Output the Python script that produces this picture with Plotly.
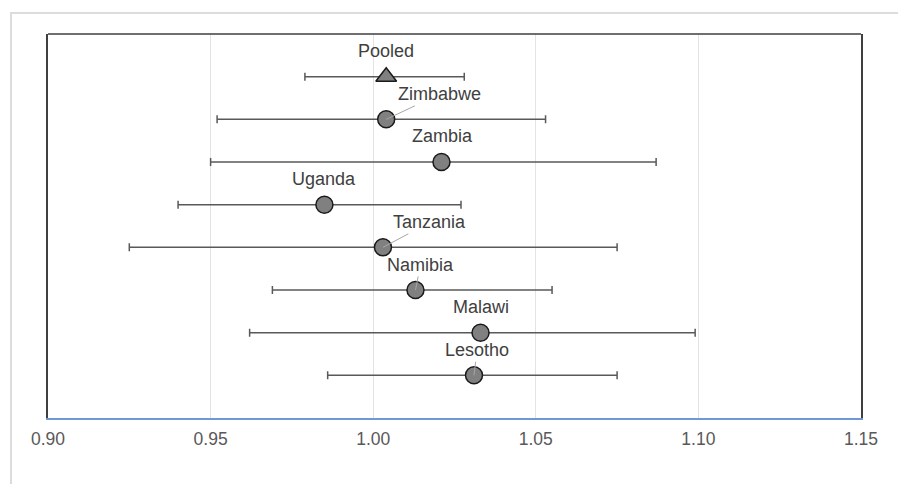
import plotly.graph_objects as go

countries = ["Pooled", "Zimbabwe", "Zambia", "Uganda", "Tanzania", "Namibia", "Malawi", "Lesotho"]
estimate = [1.004, 1.004, 1.021, 0.985, 1.003, 1.013, 1.033, 1.031]
lower = [0.979, 0.952, 0.950, 0.940, 0.925, 0.969, 0.962, 0.986]
upper = [1.028, 1.053, 1.087, 1.027, 1.075, 1.055, 1.099, 1.075]
row = [8, 7, 6, 5, 4, 3, 2, 1]
# label offsets (pixels) relative to the point
label_dx = [0, 53, 1, 0, 47, 5, 0, 3]
label_leader = [False, True, False, False, True, True, False, True]
x_ticks = [0.90, 0.95, 1.00, 1.05, 1.10, 1.15]
x_tick_text = ["0.90", "0.95", "1.00", "1.05", "1.10", "1.15"]

fig = go.Figure()

for i in range(len(countries)):
    is_pooled = countries[i] == "Pooled"
    fig.add_trace(go.Scatter(
        x=[estimate[i]], y=[row[i]], mode="markers",
        marker=dict(symbol="triangle-up" if is_pooled else "circle",
                    size=18 if is_pooled else 17, color="#808080",
                    line=dict(color="#1a1a1a", width=1.5)),
        error_x=dict(type="data", symmetric=False,
                     array=[upper[i] - estimate[i]],
                     arrayminus=[estimate[i] - lower[i]],
                     color="#595959", thickness=1.5, width=4),
        showlegend=False, hoverinfo="skip",
    ))

for i in range(len(countries)):
    if label_leader[i]:
        fig.add_annotation(x=estimate[i], y=row[i], text=countries[i],
                           showarrow=True, arrowhead=0, arrowwidth=1,
                           arrowcolor="#a6a6a6", ax=label_dx[i], ay=-25,
                           standoff=0, startstandoff=0,
                           font=dict(family="Liberation Sans, Arial", size=18, color="#404040"))
    else:
        fig.add_annotation(x=estimate[i], y=row[i], text=countries[i],
                           showarrow=False, xshift=label_dx[i], yshift=26,
                           font=dict(family="Liberation Sans, Arial", size=18, color="#404040"))

# top border of plot area
fig.add_shape(type="line", xref="paper", yref="paper", x0=0, x1=1, y0=1, y1=1,
              line=dict(color="#3f3f3f", width=1.5))
# outer light frame
fig.add_shape(type="path", xref="paper", yref="paper",
              path="M -0.0455 -0.2 L -0.0455 1.0547 L 1.06 1.0547",
              line=dict(color="#dcdcdc", width=2))

fig.update_xaxes(range=[0.90, 1.15], tickvals=x_ticks, ticktext=x_tick_text,
                 showgrid=True, gridcolor="#e3e3e3", gridwidth=1,
                 showline=True, linecolor="#7098d8", linewidth=2,
                 zeroline=False, ticks="", ticklabelstandoff=4,
                 tickfont=dict(family="Liberation Sans, Arial", size=17.5, color="#595959"))
fig.update_yaxes(range=[0, 9], showticklabels=False, showgrid=False, zeroline=False,
                 showline=True, mirror=True, linecolor="#3f3f3f", linewidth=1.5, ticks="")

fig.update_layout(width=898, height=484, margin=dict(l=48, r=37, t=34, b=66),
                  paper_bgcolor="white", plot_bgcolor="white")

fig.write_html("out.html", config={"displayModeBar": False},
               post_script="document.body.style.margin='0';document.body.style.overflow='hidden';")
